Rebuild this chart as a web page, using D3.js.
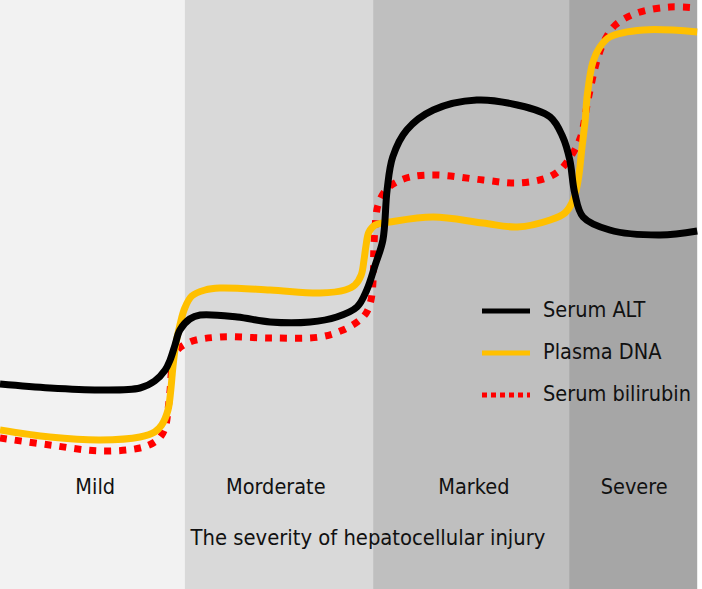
<!DOCTYPE html>
<meta charset="utf-8">
<style>
  body { margin: 0; background: #fff; }
  text { font-family: "DejaVu Sans Condensed", "DejaVu Sans", sans-serif; fill: #111; }
</style>
<div class="chart"></div>
<script src="https://cdn.jsdelivr.net/npm/d3@7/dist/d3.min.js"></script>
<script>
// severity bands (x in 0-100 units)
var bandNames = ["Mild", "Morderate", "Marked", "Severe"];
var bandEdges = [0, 26.4, 53.3, 81.3, 99.6];
var bandColors = ["#f2f2f2", "#d9d9d9", "#bfbfbf", "#a6a6a6"];
var bandLabelX = [13.6, 39.4, 67.7, 90.6];

// curves, x in 0-100, level 0-100
var altX = [0, 7.1, 14.3, 20.0, 22.1, 23.6, 24.3, 25.0, 25.7, 27.1, 28.6, 33.9, 38.6, 44.3, 48.1, 51.0, 52.4, 53.6, 54.7, 55.3, 56.1, 58.1, 61.9, 68.1, 73.9, 78.6, 80.4, 81.4, 82.1, 83.3, 87.1, 94.3, 99.6];
var altY = [23.2, 22.4, 22.0, 22.4, 23.8, 26.0, 28.0, 31.0, 34.0, 36.2, 37.0, 36.6, 35.6, 35.6, 36.6, 38.6, 42.0, 47.0, 52.0, 62.0, 68.6, 74.0, 78.0, 80.0, 79.0, 76.6, 72.6, 68.0, 61.4, 56.6, 54.0, 53.0, 53.8];

var dnaX = [0, 7.1, 14.3, 20.0, 22.1, 23.1, 24.0, 24.4, 24.7, 25.1, 25.7, 26.4, 27.4, 29.3, 31.4, 38.6, 45.7, 49.3, 50.7, 51.6, 52.0, 52.3, 52.7, 53.6, 55.7, 61.9, 69.0, 73.9, 78.6, 80.7, 81.9, 82.6, 83.1, 83.6, 83.9, 84.7, 85.7, 87.1, 91.9, 99.6];
var dnaY = [14.0, 12.6, 12.0, 12.6, 13.6, 15.0, 18.0, 22.0, 26.6, 31.0, 35.0, 38.4, 40.8, 42.0, 42.4, 42.0, 41.4, 42.0, 43.0, 45.0, 48.0, 51.0, 53.6, 55.0, 55.6, 56.6, 55.4, 54.6, 56.0, 57.4, 60.0, 64.0, 70.0, 76.0, 81.0, 87.6, 90.6, 92.6, 94.0, 93.6];

var bilX = [0, 7.1, 14.3, 20.0, 22.1, 23.1, 23.7, 24.0, 24.3, 24.6, 25.1, 27.1, 31.4, 38.6, 45.7, 49.0, 51.4, 52.4, 53.0, 53.3, 53.4, 53.6, 54.0, 55.0, 56.4, 58.6, 62.4, 69.0, 73.9, 78.1, 80.0, 81.4, 82.9, 84.0, 85.3, 86.4, 87.9, 91.0, 95.7, 99.6];
var bilY = [12.4, 11.0, 9.8, 10.4, 11.6, 13.0, 15.0, 18.0, 22.0, 27.0, 29.6, 31.6, 32.6, 32.4, 32.6, 34.0, 36.0, 37.6, 40.0, 44.0, 50.0, 55.0, 59.0, 61.8, 63.4, 64.6, 65.0, 64.0, 63.4, 64.4, 66.0, 68.4, 72.4, 80.0, 88.0, 92.0, 95.0, 97.4, 98.6, 98.4];

var seriesNames = ["Serum ALT", "Plasma DNA", "Serum bilirubin"];
var seriesColors = ["#000000", "#ffc000", "#ff0000"];

var width = 702, height = 589;

var x = d3.scaleLinear().domain([0, 100]).range([0, 700]);
var y = d3.scaleLinear().domain([0, 100]).range([500, 0]);

var svg = d3.select(".chart").append("svg")
    .attr("width", width)
    .attr("height", height);

svg.selectAll("rect.band")
    .data(bandNames)
    .enter().append("rect")
    .attr("class", "band")
    .attr("x", (d, i) => x(bandEdges[i]))
    .attr("width", (d, i) => x(bandEdges[i + 1]) - x(bandEdges[i]))
    .attr("y", 0)
    .attr("height", height)
    .attr("fill", (d, i) => bandColors[i]);

var line = d3.line()
    .x(d => x(d[0]))
    .y(d => y(d[1]))
    .curve(d3.curveCatmullRom.alpha(0.5));

var series = [
  {name: seriesNames[0], pts: d3.zip(altX, altY), color: seriesColors[0], dash: null},
  {name: seriesNames[1], pts: d3.zip(dnaX, dnaY), color: seriesColors[1], dash: null},
  {name: seriesNames[2], pts: d3.zip(bilX, bilY), color: seriesColors[2], dash: "7,8"}
];

// red underneath, black on top
[2, 1, 0].forEach(i => {
  var s = series[i];
  svg.append("path")
      .attr("d", line(s.pts))
      .attr("fill", "none")
      .attr("stroke", s.color)
      .attr("stroke-width", 7)
      .attr("stroke-dasharray", s.dash);
});

// band labels
svg.selectAll("text.band")
    .data(bandNames)
    .enter().append("text")
    .attr("class", "band")
    .attr("x", (d, i) => x(bandLabelX[i]))
    .attr("y", 494)
    .attr("text-anchor", "middle")
    .attr("font-size", 21.5)
    .text(d => d);

svg.append("text")
    .attr("x", 368)
    .attr("y", 545)
    .attr("text-anchor", "middle")
    .attr("font-size", 21.8)
    .text("The severity of hepatocellular injury");

// legend
var legend = svg.append("g").attr("transform", "translate(482,311)");
series.forEach((s, i) => {
  var g = legend.append("g").attr("transform", "translate(0," + (i * 42) + ")");
  g.append("line")
      .attr("x1", 0).attr("x2", 48)
      .attr("stroke", s.color)
      .attr("stroke-width", 5)
      .attr("stroke-dasharray", s.dash ? "5,4" : null);
  g.append("text")
      .attr("x", 61)
      .attr("y", 6)
      .attr("font-size", 21.5)
      .text(s.name);
});
</script>
